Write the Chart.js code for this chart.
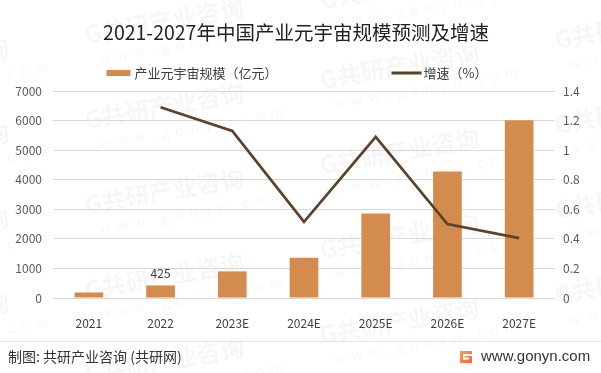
<!DOCTYPE html>
<html>
<head>
<meta charset="utf-8">
<script src="https://cdn.jsdelivr.net/npm/chart.js@4/dist/chart.umd.min.js"></script>
<style>
  html, body { margin: 0; padding: 0; background: #fff; }
  #wrap { width: 601px; height: 373px; }
</style>
</head>
<body>
<div id="wrap"><canvas id="chart" width="601" height="373"></canvas></div>
<script>
const years = ['2021', '2022', '2023E', '2024E', '2025E', '2026E', '2027E'];
const scale = [186, 425, 900, 1365, 2857, 4280, 6010];
const growth = [null, 1.29, 1.13, 0.515, 1.09, 0.5, 0.405];
const labelledYears = ['2022'];

const titleText = '2021-2027年中国产业元宇宙规模预测及增速';
const footerLeft = '制图: 共研产业咨询 (共研网)';
const footerRight = 'www.gonyn.com';

const FONT = '"Noto Sans CJK SC", "Noto Sans", sans-serif';
const barColor = '#D38B4E';
const lineColor = '#5E4129';

// faint tiled watermark + title, legend, footer, value label
const decorPlugin = {
  id: 'decor',
  beforeDraw(chart) {
    const { ctx } = chart;
    ctx.save();
    ctx.fillStyle = '#fff';
    ctx.fillRect(0, 0, chart.width, chart.height);
    const spots = [
      [-150, 75], [-150, 160], [-150, 245], [-150, 330],
      [85, 35], [85, 120], [85, 205], [85, 290], [85, 375],
      [320, 0], [320, 80], [320, 165], [320, 250], [320, 335],
      [555, 40], [555, 125], [555, 210], [555, 295],
    ];
    spots.forEach(([x, y]) => {
      ctx.save();
      ctx.translate(x, y);
      ctx.rotate(-10 * Math.PI / 180);
      ctx.fillStyle = 'rgba(0,0,0,0.035)';
      ctx.font = `bold 24px ${FONT}`;
      ctx.textBaseline = 'middle';
      ctx.textAlign = 'left';
      ctx.fillText('G共研产业咨询', 0, 0);
      ctx.font = `14px ${FONT}`;
      ctx.fillText('w  w  w  .  g  o  n  y  n  .  c  o  m', 10, 26);
      ctx.restore();
    });
    ctx.restore();
  },
  afterDraw(chart) {
    const { ctx } = chart;
    ctx.save();

    // title
    ctx.fillStyle = '#222';
    ctx.font = `19.5px ${FONT}`;
    ctx.textAlign = 'center';
    ctx.textBaseline = 'middle';
    ctx.fillText(titleText, 296, 33);

    // legend
    ctx.font = `13px ${FONT}`;
    ctx.textAlign = 'left';
    ctx.fillStyle = '#404040';
    const t1 = chart.data.datasets[0].label;
    const t2 = chart.data.datasets[1].label;
    const w1 = 28 + ctx.measureText(t1).width;
    const w2 = 32 + ctx.measureText(t2).width;
    const gap = 114;
    let lx = 297 - (w1 + gap + w2) / 2;
    const ly = 73;
    ctx.fillStyle = barColor;
    ctx.fillRect(lx, ly - 3, 24, 6);
    ctx.fillStyle = '#404040';
    ctx.fillText(t1, lx + 28, ly);
    lx += w1 + gap;
    ctx.strokeStyle = lineColor;
    ctx.lineWidth = 3;
    ctx.beginPath();
    ctx.moveTo(lx, ly);
    ctx.lineTo(lx + 30, ly);
    ctx.stroke();
    ctx.fillText(t2, lx + 32, ly);

    // value label on bars
    const meta = chart.getDatasetMeta(0);
    ctx.font = `12px ${FONT}`;
    ctx.textAlign = 'center';
    ctx.textBaseline = 'bottom';
    ctx.fillStyle = '#404040';
    years.forEach((y, i) => {
      if (!labelledYears.includes(y)) return;
      const bar = meta.data[i];
      ctx.fillText(String(scale[i]), bar.x, bar.y - 6);
    });

    // footer
    ctx.strokeStyle = '#e3e3e3';
    ctx.lineWidth = 1;
    ctx.beginPath();
    ctx.moveTo(0, 341.5);
    ctx.lineTo(chart.width, 341.5);
    ctx.stroke();

    ctx.font = `14px ${FONT}`;
    ctx.textAlign = 'left';
    ctx.textBaseline = 'middle';
    ctx.fillStyle = '#333';
    ctx.fillText(footerLeft, 8, 357);

    // small logo
    const g = ctx.createLinearGradient(460, 351, 472, 363);
    g.addColorStop(0, '#F6A04D');
    g.addColorStop(1, '#EE6A3A');
    ctx.fillStyle = g;
    ctx.fillRect(460, 351, 12, 12);
    ctx.fillStyle = '#fff';
    ctx.fillRect(463, 354, 9, 2);
    ctx.fillRect(465, 357.5, 4, 2);
    ctx.fillRect(463, 356, 2, 4);

    ctx.font = `15px "Liberation Sans", Arial, sans-serif`;
    ctx.fillStyle = '#333';
    ctx.fillText(footerRight, 481, 357);
    ctx.restore();
  },
};

new Chart(document.getElementById('chart'), {
  data: {
    labels: years,
    datasets: [
      {
        type: 'line',
        label: '增速（%）',
        data: growth,
        yAxisID: 'y1',
        borderColor: lineColor,
        backgroundColor: lineColor,
        borderWidth: 2.75,
        pointRadius: 0,
        tension: 0,
        order: 0,
      },
      {
        type: 'bar',
        label: '产业元宇宙规模（亿元）',
        data: scale,
        yAxisID: 'y',
        backgroundColor: barColor,
        categoryPercentage: 1,
        barPercentage: 0.4,
        order: 1,
      },
    ].reverse(),
  },
  options: {
    responsive: false,
    animation: false,
    layout: { padding: { top: 91, bottom: 45, left: 0, right: 0 } },
    plugins: {
      legend: { display: false },
      title: { display: false },
      tooltip: { enabled: false },
    },
    scales: {
      x: {
        grid: { display: false },
        border: { display: false },
        ticks: { color: '#404040', font: { family: FONT, size: 12 }, padding: 10 },
        afterFit(s) { s.height = 30; },
      },
      y: {
        position: 'left',
        min: 0,
        max: 7000,
        ticks: {
          stepSize: 1000,
          color: '#595959',
          font: { family: FONT, size: 12 },
          padding: 11,
          callback: (v) => String(v),
        },
        grid: { color: '#d9d9d9', drawTicks: false },
        border: { display: false },
        afterFit(s) { s.width = 53; },
      },
      y1: {
        position: 'right',
        min: 0,
        max: 1.4,
        ticks: {
          stepSize: 0.2,
          color: '#595959',
          font: { family: FONT, size: 12 },
          padding: 8,
          callback: (v) => String(Math.round(v * 10) / 10),
        },
        grid: { drawOnChartArea: false, drawTicks: false },
        border: { display: false },
        afterFit(s) { s.width = 46; },
      },
    },
  },
  plugins: [decorPlugin],
});
</script>
</body>
</html>
